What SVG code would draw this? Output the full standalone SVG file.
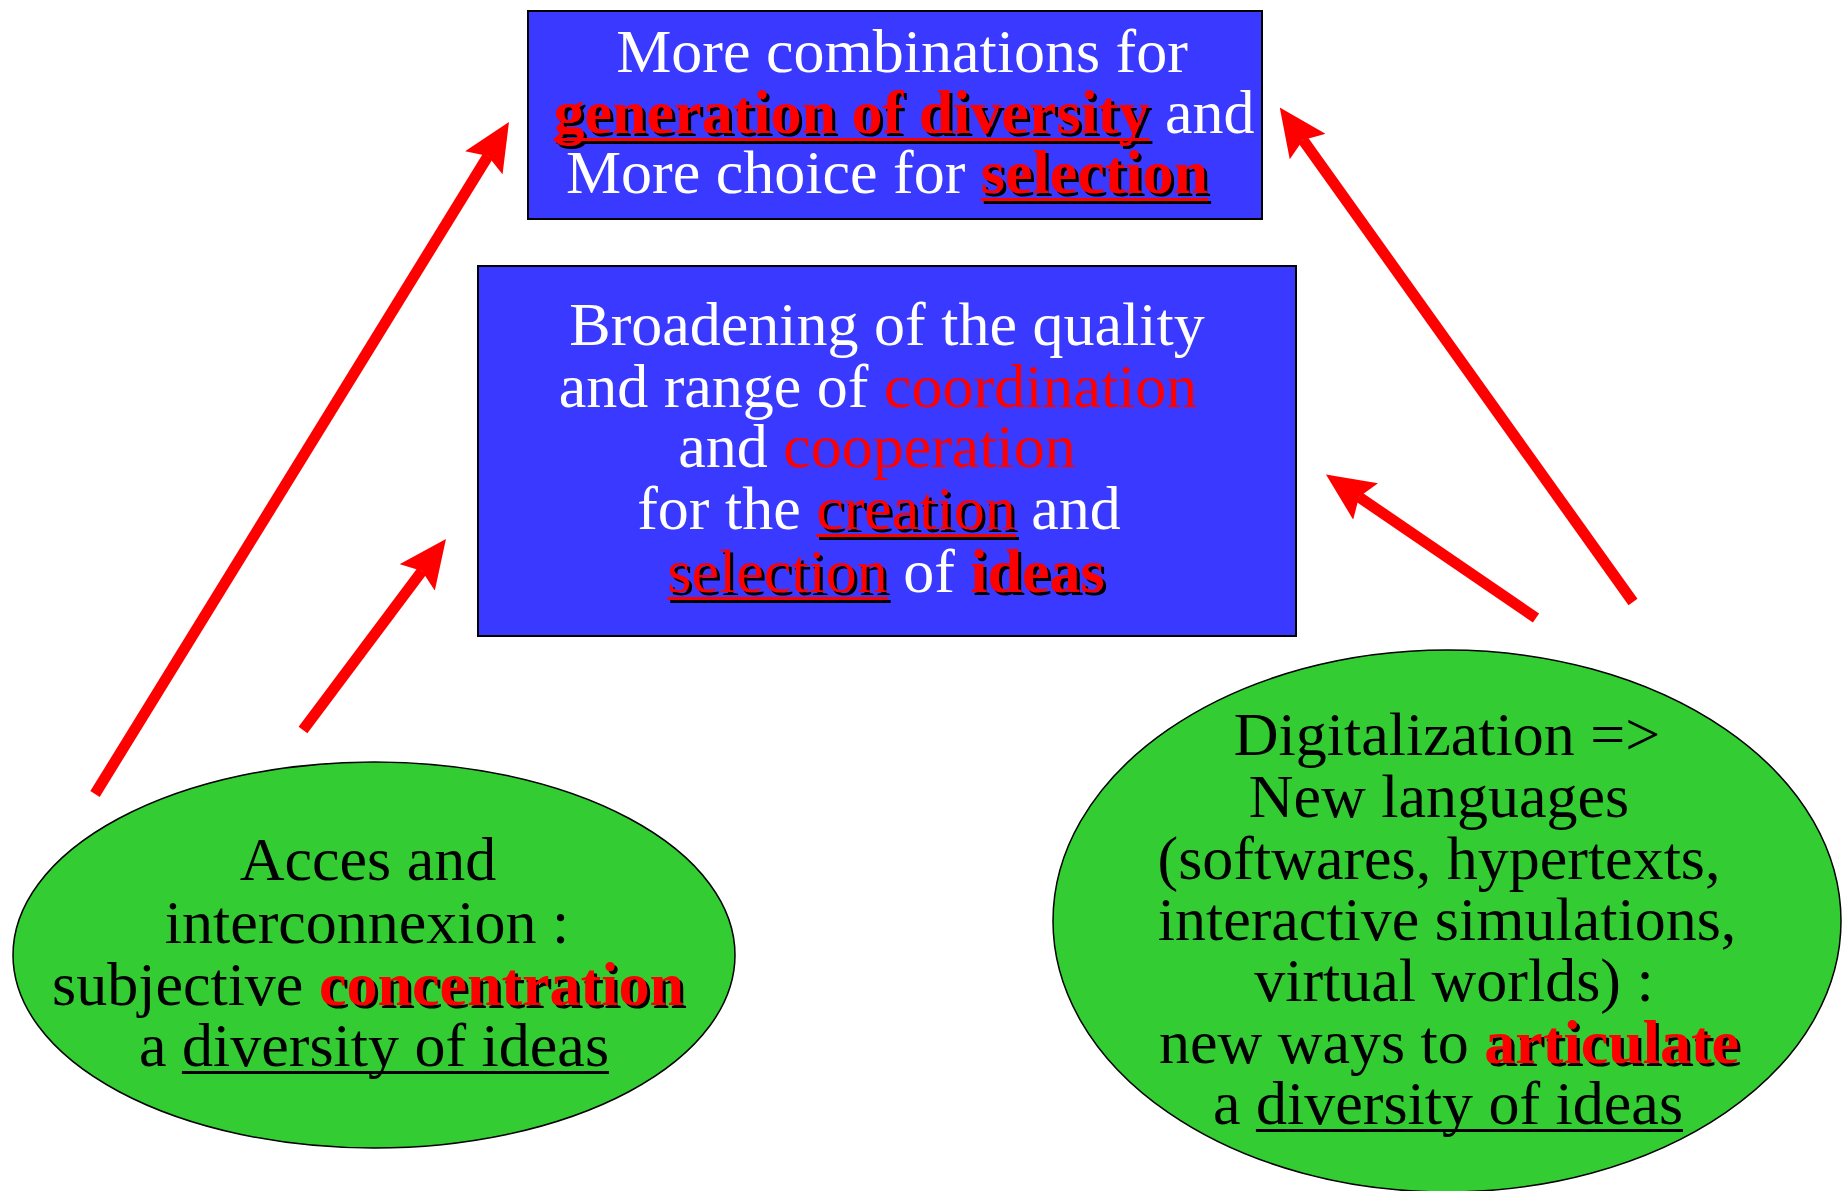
<svg xmlns="http://www.w3.org/2000/svg" width="1847" height="1191" viewBox="0 0 1847 1191">
<defs>
<style>
.t{font-family:"Liberation Serif","Times New Roman",serif;font-size:62px;text-anchor:middle}
.w{fill:#fff}.k{fill:#000}.r{fill:#f00}.b{font-weight:bold}
.sh{filter:url(#shadow)}
.box{fill:#3939ff;stroke:#000;stroke-width:2}
.ell{fill:#33cc33;stroke:#000;stroke-width:1.5}
.arr{stroke:#f00;stroke-width:11;fill:none;marker-end:url(#ah)}
</style>
<filter id="shadow" x="-5%" y="-20%" width="110%" height="140%" color-interpolation-filters="sRGB">
<feColorMatrix in="SourceGraphic" type="matrix" values="0 0 0 0 0  0 0 0 0 0  0 0 0 0 0  1 -1 0 0 0" result="m"/>
<feComposite in="m" in2="SourceAlpha" operator="in" result="m2"/>
<feOffset in="m2" dx="3" dy="3" result="o"/>
<feMerge><feMergeNode in="o"/><feMergeNode in="SourceGraphic"/></feMerge>
</filter>
<marker id="ah" viewBox="0 0 48 44" markerWidth="48" markerHeight="44" refX="8" refY="22" orient="auto" markerUnits="userSpaceOnUse">
<path d="M0,0 L48,22 L0,44 L8,22 Z" fill="#f00"/>
</marker>
</defs>
<rect width="1847" height="1191" fill="#fff"/>

<g id="top-box">
<rect class="box" x="528" y="11" width="734" height="208"/>
<text class="t w" x="902" y="72">More combinations for</text>
<g class="sh">
<text class="t w" x="904" y="133"><tspan class="r b">generation of diversity</tspan> and</text>
<rect class="r" x="553.6" y="138" width="595.8" height="3"/>
</g>
<g class="sh">
<text class="t w" x="887" y="193">More choice for <tspan class="r b">selection</tspan></text>
<rect class="r" x="980.8" y="198" width="227.3" height="3"/>
</g>
</g>

<g id="middle-box">
<rect class="box" x="478" y="266" width="818" height="370"/>
<text class="t w" x="887" y="345">Broadening of the quality</text>
<text class="t w" x="878" y="407">and range of <tspan class="r">coordination</tspan></text>
<text class="t w" x="877" y="467">and <tspan class="r">cooperation</tspan></text>
<g class="sh">
<text class="t w" x="879" y="529">for the <tspan class="r">creation</tspan> and</text>
<rect class="r" x="816.2" y="534" width="199.7" height="3"/>
</g>
<g class="sh">
<text class="t w" x="886" y="592"><tspan class="r">selection</tspan> of <tspan class="r b">ideas</tspan></text>
<rect class="r" x="667.3" y="597" width="220.4" height="3"/>
</g>
</g>

<g id="left-ellipse">
<ellipse class="ell" cx="374" cy="955" rx="361" ry="193"/>
<text class="t k" x="368" y="880">Acces and</text>
<text class="t k" x="367" y="943">interconnexion :</text>
<text class="t k sh" x="368" y="1005">subjective <tspan class="r b">concentration</tspan></text>
<text class="t k" x="374" y="1066">a diversity of ideas</text>
<rect class="k" x="181.9" y="1071" width="427.1" height="3"/>
</g>

<g id="right-ellipse">
<ellipse class="ell" cx="1447" cy="921" rx="394" ry="271"/>
<text class="t k" x="1447" y="755">Digitalization =&gt;</text>
<text class="t k" x="1439" y="817">New languages</text>
<text class="t k" x="1439" y="879">(softwares, hypertexts,</text>
<text class="t k" x="1447" y="940">interactive simulations,</text>
<text class="t k" x="1454" y="1001">virtual worlds) :</text>
<text class="t k sh" x="1449" y="1063">new ways to <tspan class="r b">articulate</tspan></text>
<text class="t k" x="1448" y="1124">a diversity of ideas</text>
<rect class="k" x="1255.9" y="1129" width="427.1" height="3"/>
</g>

<g id="connectors">
<line class="arr" x1="95" y1="794" x2="488" y2="156"/>
<line class="arr" x1="303" y1="730" x2="422" y2="571"/>
<line class="arr" x1="1633" y1="602" x2="1303" y2="140"/>
<line class="arr" x1="1536" y1="618" x2="1359" y2="497"/>
</g>
</svg>
